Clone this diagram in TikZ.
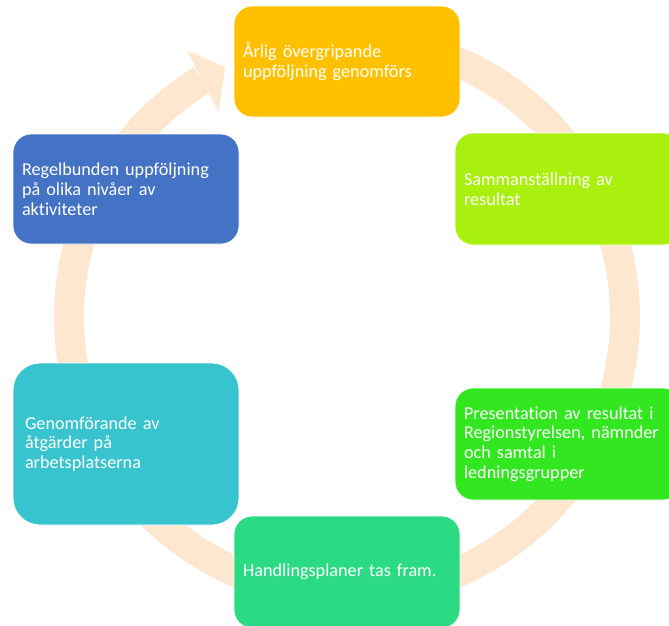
\documentclass[tikz,border=0pt]{standalone}
\usepackage{fontspec}
\setmainfont{Carlito}[Ligatures={NoCommon}]
\usetikzlibrary{calc}
\definecolor{cOrange}{HTML}{FFC000}
\definecolor{cLime}{HTML}{A9F00F}
\definecolor{cGreen}{HTML}{32E620}
\definecolor{cMint}{HTML}{2BDB84}
\definecolor{cCyan}{HTML}{38C4CE}
\definecolor{cBlue}{HTML}{4472C4}
\definecolor{cRing}{HTML}{FDE7CE}
\tikzset{
  box/.style={rectangle, rounded corners=18pt, draw=white, line width=0.8pt,
    text=white, text width=208pt, inner xsep=9pt, inner ysep=0pt, align=left,
    font=\fontsize{18.2}{19.8}\selectfont},
  ring/.style={draw=cRing, line width=30pt},
  ringhead/.style={fill=cRing}
}
\begin{document}
\begin{tikzpicture}[x=1pt,y=1pt]
\useasboundingbox (0,0) rectangle (669,-625);
\clip (0,0) rectangle (669,-625);
\coordinate (C) at (347,-317);
\draw[ring] ($(C)+(90:278)$) arc[start angle=90, end angle=-238.5, radius=278pt];
\fill[ringhead] ($(C)+(121:311)$) -- ($(C)+(116:278)$) -- ($(C)+(122:242)$) -- cycle;
\node[box, fill=cOrange, minimum height=111pt] (n1) at (347,-61.5) {Årlig övergripande\\uppföljning genomförs};
\node[box, fill=cLime, minimum height=112pt] (n2) at (568,-189) {Sammanställning av\\resultat};
\node[box, fill=cGreen, minimum height=112pt] (n3) at (568,-444) {Presentation av resultat i\\Regionstyrelsen, nämnder\\och samtal i\\ledningsgrupper};
\node[box, fill=cMint, minimum height=112pt] (n4) at (347,-572) {Handlingsplaner tas fram.};
\node[box, fill=cCyan, minimum height=162pt, rounded corners=27pt, text width=202pt, inner xsep=12pt] (n5) at (126,-444) {Genomförande av\\åtgärder på\\arbetsplatserna};
\node[box, fill=cBlue, minimum height=110pt] (n6) at (126,-189) {Regelbunden uppföljning\\på olika nivåer av\\aktiviteter};
\end{tikzpicture}
\end{document}
